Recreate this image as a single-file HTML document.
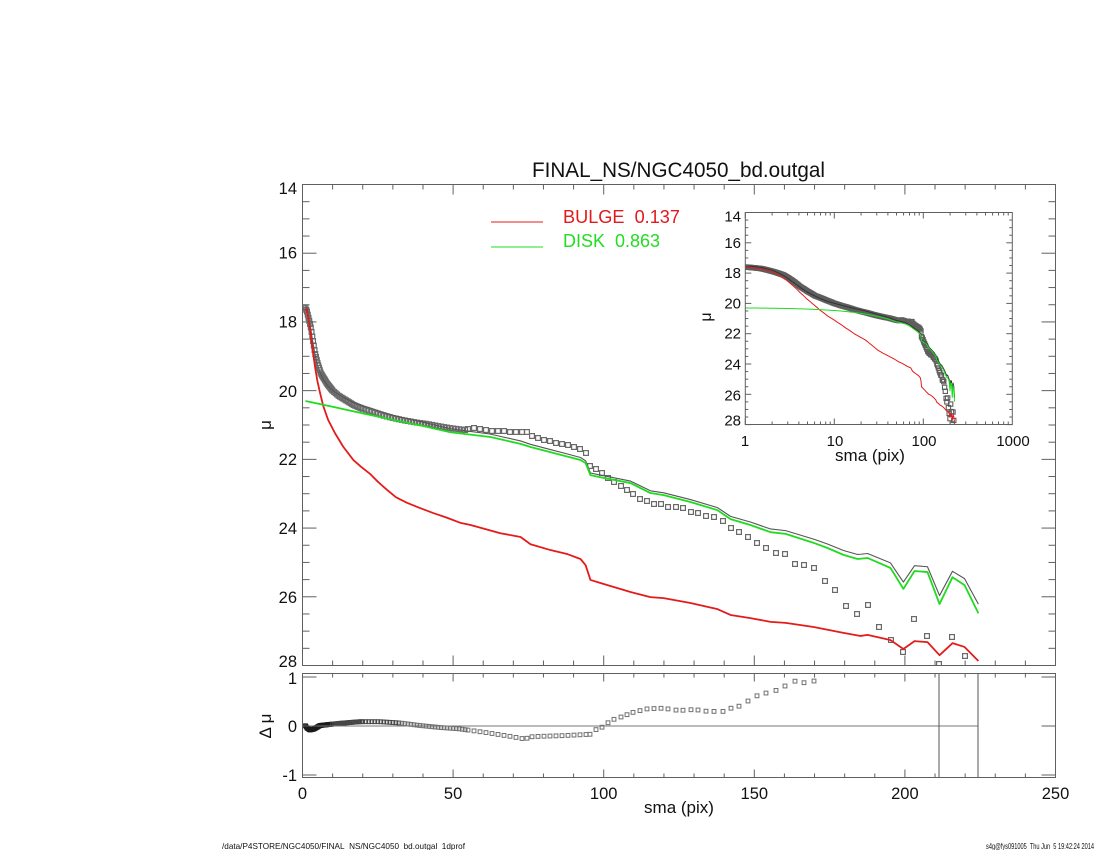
<!DOCTYPE html>
<html>
<head>
<meta charset="utf-8">
<style>
html,body{margin:0;padding:0;background:#fff;}
svg{display:block;}
text{font-family:"Liberation Sans","DejaVu Sans",sans-serif;fill:#111;}
</style>
</head>
<body>
<svg id="s" width="1100" height="850" viewBox="0 0 1100 850" xmlns="http://www.w3.org/2000/svg">
<defs>
<clipPath id="cm"><rect x="302.5" y="184.5" width="753" height="481"/></clipPath>
<clipPath id="cr"><rect x="302.5" y="673.5" width="753" height="104"/></clipPath>
<clipPath id="ci"><rect x="745.3" y="212.5" width="267" height="212"/></clipPath>
</defs>
<rect width="1100" height="850" fill="#fff"/>
<g id="dyn"></g>

<!-- title -->
<text x="678.5" y="177" font-size="21" text-anchor="middle" textLength="293" lengthAdjust="spacingAndGlyphs">FINAL_NS/NGC4050_bd.outgal</text>

<!-- legend -->
<line x1="491" y1="222" x2="543" y2="222" stroke="#e41b1b" stroke-width="1"/>
<line x1="491" y1="247" x2="543" y2="247" stroke="#1fdc1f" stroke-width="1"/>
<text x="563" y="223" font-size="18" style="white-space:pre;fill:#e3191c" textLength="117" lengthAdjust="spacingAndGlyphs">BULGE  0.137</text>
<text x="563" y="247" font-size="18" style="white-space:pre;fill:#22dd22" textLength="97" lengthAdjust="spacingAndGlyphs">DISK  0.863</text>

<!-- main y tick labels -->
<g font-size="16.5" text-anchor="end">
<text x="297" y="194">14</text>
<text x="297" y="258.5">16</text>
<text x="297" y="327.5">18</text>
<text x="297" y="397">20</text>
<text x="297" y="465">22</text>
<text x="297" y="534">24</text>
<text x="297" y="603">26</text>
<text x="297" y="667">28</text>
<text x="297" y="684">1</text>
<text x="297" y="732">0</text>
<text x="297" y="781">-1</text>
</g>

<!-- main x tick labels -->
<g font-size="16.5" text-anchor="middle">
<text x="302.5" y="799">0</text>
<text x="453.1" y="799">50</text>
<text x="603.7" y="799">100</text>
<text x="754.3" y="799">150</text>
<text x="904.9" y="799">200</text>
<text x="1055.5" y="799">250</text>
</g>
<text x="679" y="813" font-size="17" text-anchor="middle">sma (pix)</text>
<text transform="translate(271,425) rotate(-90)" font-size="17" text-anchor="middle">μ</text>
<text transform="translate(271,726) rotate(-90)" font-size="17" text-anchor="middle" style="white-space:pre">Δ μ</text>

<!-- inset labels -->
<g font-size="15" text-anchor="end">
<text x="741" y="221.4">14</text>
<text x="741" y="248">16</text>
<text x="741" y="278">18</text>
<text x="741" y="308.7">20</text>
<text x="741" y="338.7">22</text>
<text x="741" y="369.7">24</text>
<text x="741" y="400.4">26</text>
<text x="741" y="425.4">28</text>
</g>
<g font-size="15" text-anchor="middle">
<text x="745" y="446">1</text>
<text x="835" y="446">10</text>
<text x="924" y="446">100</text>
<text x="1013" y="446">1000</text>
</g>
<text x="870" y="461" font-size="17" text-anchor="middle">sma (pix)</text>
<text transform="translate(711,317) rotate(-90)" font-size="16" text-anchor="middle">μ</text>

<!-- footer -->
<text x="222" y="849" font-size="8.5" textLength="243" lengthAdjust="spacingAndGlyphs">/data/P4STORE/NGC4050/FINAL_NS/NGC4050_bd.outgal_1dprof</text>
<text x="986" y="849" font-size="8.5" textLength="108" lengthAdjust="spacingAndGlyphs" style="white-space:pre">s4g@fys091005  Thu Jun  5 19:42:24 2014</text>
</svg>

<script>
(function(){
var out=[];
var MX0=302.5,MXS=3.012,MY0=184.5,MYS=34.357;
function mx(s){return MX0+s*MXS;}
function my(m){return MY0+(m-14)*MYS;}
function sFromX(x){return (x-MX0)/MXS;}
function mFromY(y){return 14+(y-MY0)/MYS;}
var IX0=745.3,IXS=89,IY0=212.5,IYS=15.15;
function ix(s){return IX0+Math.log10(s)*IXS;}
function iy(m){return IY0+(m-14)*IYS;}
var RY0=726,RYS=49;
function interp(t,s){
  if(s<=t[0][0])return t[0][1];
  for(var i=1;i<t.length;i++){
    if(s<=t[i][0]){var a=t[i-1],b=t[i];return a[1]+(b[1]-a[1])*(s-a[0])/(b[0]-a[0]);}
  }
  return t[t.length-1][1];
}
function f(v){return v.toFixed(2);}

var bulge=[[1,17.6],[1.5,17.72],[2,17.92],[2.7,18.33],[3.3,18.75],[4.15,19.3],[4.9,19.7],[5.7,20.02],[6.9,20.45],[8.5,20.85],[10.8,21.24],[13.5,21.63],[16.9,22.02],[19.5,22.22],[22.4,22.42],[25,22.65],[27.95,22.88],[31,23.1],[34.6,23.26],[38.5,23.4],[43.3,23.56],[48,23.7],[52.5,23.85],[55.8,23.91],[65.7,24.15],[72.4,24.26],[75.7,24.47],[82.3,24.64],[88,24.76],[92.3,24.9],[94,25.08],[95.6,25.51],[98.9,25.6],[108.9,25.86],[115.5,26.01],[119.9,26.04],[128.8,26.18],[137.8,26.36],[142.1,26.53],[148.7,26.62],[155.4,26.73],[160.4,26.76],[169.7,26.88],[179.6,27.05],[185.3,27.14],[187.6,27.11],[195.2,27.26],[199.5,27.52],[203.2,27.29],[207.5,27.32],[211.5,27.7],[215.8,27.35],[219.8,27.46],[224.4,27.87]];
var disk=[[1,20.3],[10,20.47],[20,20.66],[30,20.85],[40,21.03],[49.1,21.21],[62.4,21.35],[72.4,21.55],[75.7,21.64],[92.3,22.02],[94,22.11],[95.6,22.46],[98.9,22.52],[108.9,22.69],[115.5,22.98],[119.9,23.04],[128.8,23.24],[137.8,23.48],[142.1,23.74],[148.7,23.91],[155.4,24.12],[160.4,24.17],[169.7,24.43],[174.3,24.58],[179.6,24.78],[184.3,24.9],[187.6,24.87],[195.2,25.16],[199.5,25.77],[203.2,25.25],[207.5,25.28],[211.5,26.21],[215.8,25.43],[219.8,25.66],[224.4,26.48]];
var band=[[1,17.6],[1.5,17.7],[2,17.88],[2.7,18.13],[3.3,18.45],[4.15,18.9],[5,19.2],[6.1,19.5],[8.2,19.8],[10,20.0],[12,20.15],[14.8,20.3],[17,20.42],[20,20.53],[22.6,20.6],[27,20.73],[30.2,20.8],[34,20.87],[38,20.93],[41.4,20.97],[45,21.03],[49,21.09],[54.5,21.15]];
var mainPts=[[468,429],[474,428],[480,429],[486,430],[492,431],[498,431],[504,431],[510,432],[516,432],[522,432],[527,432],
[532,436],[538,438],[544,440],[550,441],[556,443],[562,444],[568,445],[574,447],[580,449],[586,453],
[590,466],[596,469],[602,473],[608,478],[614,482],[621,486],[627,490],[633,494],[640,499],[647,501],[654,504],[661,504],[668,507],[676,507],[683,508],[691,512],[698,513],[706,516],[714,517],[723,521],[731,528],[739,532],[748,537],[757,543],[766,548],
[776,553],[785,554],[795,564],[804,565],[814,568],[825,581],[835,590],[846,606],[857,614],[868,605],[879,627],[891,640],[903,652],[914,619],[927,636],[939,664],[952,637],[965,656]];
var resTrace=[[305,725],[307,728],[310,730],[314,729],[320,725.5],[340,723.3],[360,721.7],[380,721.7],[400,723],[420,725.5],[440,727.5],[459,728.8],[485,732.4],[511.5,736.6],[524.6,739],[532.4,736.6],[563.8,735.6],[590,734.3],[595,730],[603,726.8],[611,720.3],[621,717],[634,712],[647.5,708.8],[663,708.2],[679,710.5],[694.6,709.5],[707.6,711.4],[723,711.4],[731,708.2],[739,706.2],[747,701.6],[757,695.8],[767.8,692.5],[778,689.9],[794,681],[804,682.7],[814,681]];

function tot(s){var b=interp(bulge,s),d=interp(disk,s);return -2.5*Math.log10(Math.pow(10,-0.4*b)+Math.pow(10,-0.4*d));}
function poly(pts,c,w){return '<polyline points="'+pts.map(function(p){return f(p[0])+','+f(p[1]);}).join(' ')+'" fill="none" stroke="'+c+'" stroke-width="'+w+'" stroke-linejoin="round"/>';}
function sq(x,y,sz,c,w){return '<rect x="'+f(x-sz/2)+'" y="'+f(y-sz/2)+'" width="'+sz+'" height="'+sz+'" fill="none" stroke="'+c+'" stroke-width="'+w+'"/>';}
function ln(x1,y1,x2,y2,c,w){return '<line x1="'+f(x1)+'" y1="'+f(y1)+'" x2="'+f(x2)+'" y2="'+f(y2)+'" stroke="'+(c||'#606060')+'" stroke-width="'+(w||1)+'"/>';}

var knots=[];
bulge.concat(disk).forEach(function(p){if(knots.indexOf(p[0])<0)knots.push(p[0]);});
knots.sort(function(a,b){return a-b;});

/* ---------- main panel ---------- */
var bs=[],s;
for(s=1;s<10;s+=0.25)bs.push(s);
for(s=10;s<20;s+=0.5)bs.push(s);
for(s=20;s<=54.1;s+=1)bs.push(s);
var mainSq=bs.map(function(s){return [mx(s),my(interp(band,s))];}).concat(mainPts);
out.push('<g clip-path="url(#cm)">');
mainSq.forEach(function(p){out.push(sq(p[0],p[1],4.8,'#6a6a6a',1.2));});
out.push(poly(knots.map(function(s){return [mx(s),my(tot(s))];}),'#555',1.1));
out.push(poly(bulge.map(function(p){return [mx(p[0]),my(p[1])];}),'#e41b1b',1.8));
out.push(poly(disk.map(function(p){return [mx(p[0]),my(p[1])];}),'#1fdc1f',1.8));
out.push('</g>');

/* ---------- residual panel ---------- */
out.push('<g clip-path="url(#cr)">');
mainSq.forEach(function(p){
  if(p[0]<=815){
    var c=p[0]<332?'#1a1a1a':(p[0]<400?'#444':'#707070');
    out.push(sq(p[0],interp(resTrace,p[0]),3.8,c,1));
  }
});
out.push(ln(302.5,RY0,978,RY0,'#777',1));
out.push(ln(939,673.5,939,777.5,'#555',1));
out.push(ln(978,673.5,978,777.5,'#555',1));
out.push('</g>');

/* ---------- inset ---------- */
var isq=[];
for(s=1;s<54.5;s*=1.025)isq.push([s,interp(band,s)]);
mainPts.forEach(function(p){isq.push([sFromX(p[0]),mFromY(p[1])]);});
var grid=knots.slice();
for(s=1;s<224.4;s*=1.04)grid.push(s);
grid.sort(function(a,b){return a-b;});
out.push('<g clip-path="url(#ci)">');
isq.forEach(function(p){out.push(sq(ix(p[0]),iy(p[1]),4.3,'#5e5e5e',1.1));});
out.push(poly(grid.map(function(s){return [ix(s),iy(tot(s))];}),'#333',1));
out.push(poly(grid.map(function(s){return [ix(s),iy(interp(bulge,s))];}),'#e41b1b',1));
out.push(poly(grid.map(function(s){return [ix(s),iy(interp(disk,s))];}),'#1fdc1f',1));
out.push('</g>');

/* ---------- frames & ticks ---------- */
var v,x,y,L;
// main
out.push('<rect x="302.5" y="184.5" width="753" height="481" fill="none" stroke="#606060" stroke-width="1"/>');
for(v=0;v<=250;v+=10){x=mx(v);L=(v%50===0)?10:5;out.push(ln(x,665.5,x,665.5-L));out.push(ln(x,184.5,x,184.5+L));}
for(v=14;v<=28.001;v+=0.5){y=my(v);L=(Math.abs(v%2)<0.01)?14:7;out.push(ln(302.5,y,302.5+L,y));out.push(ln(1055.5,y,1055.5-L,y));}
// residual
out.push('<rect x="302.5" y="673.5" width="753" height="104" fill="none" stroke="#606060" stroke-width="1"/>');
for(v=0;v<=250;v+=10){x=mx(v);L=(v%50===0)?8:4;out.push(ln(x,777.5,x,777.5-L));out.push(ln(x,673.5,x,673.5+L));}
[-1,0,1].forEach(function(d){y=RY0-d*RYS;out.push(ln(302.5,y,316.5,y));out.push(ln(1055.5,y,1041.5,y));});
// inset
out.push('<rect x="745.3" y="212.5" width="267" height="212" fill="none" stroke="#606060" stroke-width="1"/>');
for(var dec=0;dec<3;dec++){
  for(var k=1;k<=9;k++){
    x=ix(k*Math.pow(10,dec));L=(k===1)?6:3;
    out.push(ln(x,424.5,x,424.5-L));out.push(ln(x,212.5,x,212.5+L));
  }
}
for(v=14;v<=28.001;v+=0.5){y=iy(v);L=(Math.abs(v%2)<0.01)?6:3;out.push(ln(745.3,y,745.3+L,y));out.push(ln(1012.3,y,1012.3-L,y));}

document.getElementById('dyn').innerHTML=out.join('');
})();
</script>
</body>
</html>
